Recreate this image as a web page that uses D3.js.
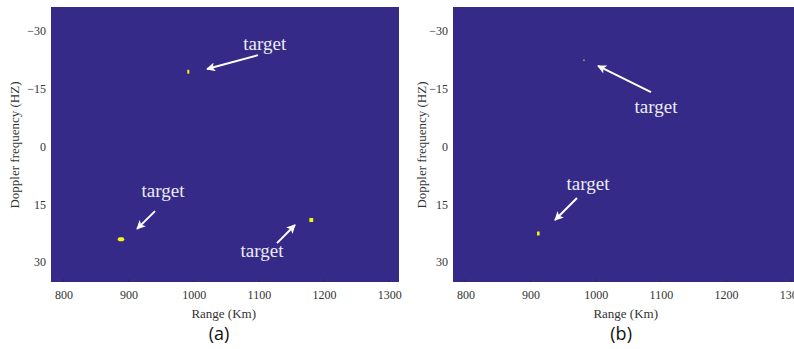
<!DOCTYPE html>
<html>
<head>
<meta charset="utf-8">
<script src="https://cdn.jsdelivr.net/npm/d3@7/dist/d3.min.js"></script>
<style>
  body { margin: 0; background: #fff; }
  svg { display: block; }
  .tick text { font-family: "Liberation Serif", "DejaVu Serif", serif; font-size: 12px; fill: #333; }
</style>
</head>
<body>
<svg id="chart" width="794" height="349"></svg>
<script>
// axis ranges / ticks
var rangeDomain = [781, 1315],
    dopplerDomain = [-36.2, 35.2],
    rangeTicks = [800, 900, 1000, 1100, 1200, 1300],
    dopplerTicks = [-30, -15, 0, 15, 30];

// detected targets, panel (a) and (b)
var targetsA_range = [991.7, 888.4, 1180.4],
    targetsA_doppler = [-19.4, 24.1, 19.1],
    targetsA_spreadKm = [3, 10, 6],
    targetsA_spreadHz = [1.0, 1.0, 1.0];

var targetsB_range = [982, 911.9],
    targetsB_doppler = [-22.4, 22.6],
    targetsB_spreadKm = [2, 4],
    targetsB_spreadHz = [0.4, 1.0];

// annotation labels and arrows (data coords: label pos, arrow from, arrow to)
var notesA_label = [[1109, -25.0], [952.9, 13.1], [1104.8, 28.7]],
    notesA_from = [[1098.6, -23.7], [940.6, 16.8], [1127.8, 25.1]],
    notesA_to = [[1020.4, -20.1], [913, 21.4], [1155.4, 20.4]];

var notesB_label = [[1092.5, -8.7], [988.2, 11.3]],
    notesB_from = [[1084.8, -14.1], [971.3, 13.4]],
    notesB_to = [[1003.5, -20.9], [937.5, 19.1]];

var svg = d3.select("#chart");

svg.append("defs").append("marker")
  .attr("id", "head")
  .attr("markerUnits", "userSpaceOnUse")
  .attr("viewBox", "0 0 10 10")
  .attr("refX", 9).attr("refY", 5)
  .attr("markerWidth", 10).attr("markerHeight", 9)
  .attr("orient", "auto")
  .append("path")
  .attr("d", "M0,0 L10,5 L0,10 L2.5,5 Z")
  .attr("fill", "#fff");

function drawPanel(left, ylabX, letter, tr, td, tsk, tsh, nl, nf, nt) {
  var top = 7, bottom = 282, w = 348;

  var x = d3.scaleLinear().domain(rangeDomain).range([left, left + w]);
  var y = d3.scaleLinear().domain(dopplerDomain).range([top, bottom]);

  var g = svg.append("g");

  g.append("rect")
    .attr("x", left).attr("y", top)
    .attr("width", w).attr("height", bottom - top)
    .attr("fill", "#352a87");

  // faint inner ticks like matlab
  g.append("g").selectAll("line").data(rangeTicks).enter().append("line")
    .attr("x1", d => x(d)).attr("x2", d => x(d))
    .attr("y1", bottom).attr("y2", bottom - 3)
    .attr("stroke", "#2b2275").attr("stroke-width", 1);

  g.append("g")
    .attr("transform", `translate(0,${bottom})`)
    .call(d3.axisBottom(x).tickValues(rangeTicks).tickFormat(d3.format("d")).tickSize(0).tickPadding(8))
    .call(g => g.select(".domain").remove());

  g.append("g")
    .attr("transform", `translate(${left},0)`)
    .call(d3.axisLeft(y).tickValues(dopplerTicks).tickFormat(d3.format("d")).tickSize(0).tickPadding(5))
    .call(g => g.select(".domain").remove());

  g.append("text")
    .attr("x", x(1046)).attr("y", 318)
    .attr("text-anchor", "middle")
    .attr("font-family", "Liberation Serif, serif")
    .attr("font-size", 13).attr("fill", "#333")
    .text("Range (Km)");

  g.append("text")
    .attr("transform", `translate(${ylabX},145) rotate(-90)`)
    .attr("text-anchor", "middle")
    .attr("dy", "0.35em")
    .attr("font-family", "Liberation Serif, serif")
    .attr("font-size", 13).attr("fill", "#333")
    .text("Doppler frequency (HZ)");

  g.append("text")
    .attr("x", x(1039)).attr("y", 340)
    .attr("text-anchor", "middle")
    .attr("font-family", "Open Sans, Noto Sans, sans-serif")
    .attr("font-size", 18).attr("fill", "#111")
    .text(letter);

  // targets
  g.append("g").selectAll("rect").data(tr).enter().append("rect")
    .attr("x", (d, i) => x(d - tsk[i] / 2))
    .attr("y", (d, i) => y(td[i] - tsh[i] / 2))
    .attr("width", (d, i) => x(d + tsk[i] / 2) - x(d - tsk[i] / 2))
    .attr("height", (d, i) => y(td[i] + tsh[i] / 2) - y(td[i] - tsh[i] / 2))
    .attr("rx", (d, i) => tsk[i] > 8 ? 2 : 0.3)
    .attr("fill", (d, i) => tsh[i] < 0.5 ? "#d8d87a" : "#f5f312");

  // arrows
  g.append("g").selectAll("line").data(nf).enter().append("line")
    .attr("x1", d => x(d[0])).attr("y1", d => y(d[1]))
    .attr("x2", (d, i) => x(nt[i][0])).attr("y2", (d, i) => y(nt[i][1]))
    .attr("stroke", "#fff").attr("stroke-width", 2)
    .attr("marker-end", "url(#head)");

  g.append("g").selectAll("text").data(nl).enter().append("text")
    .attr("x", d => x(d[0])).attr("y", d => y(d[1]))
    .attr("text-anchor", "middle")
    .attr("font-family", "Liberation Serif, serif")
    .attr("font-size", 19).attr("fill", "#ececf2")
    .text("target");
}

drawPanel(51, 14, "(a)", targetsA_range, targetsA_doppler, targetsA_spreadKm, targetsA_spreadHz,
  notesA_label, notesA_from, notesA_to);
drawPanel(453, 421, "(b)", targetsB_range, targetsB_doppler, targetsB_spreadKm, targetsB_spreadHz,
  notesB_label, notesB_from, notesB_to);
</script>
</body>
</html>
